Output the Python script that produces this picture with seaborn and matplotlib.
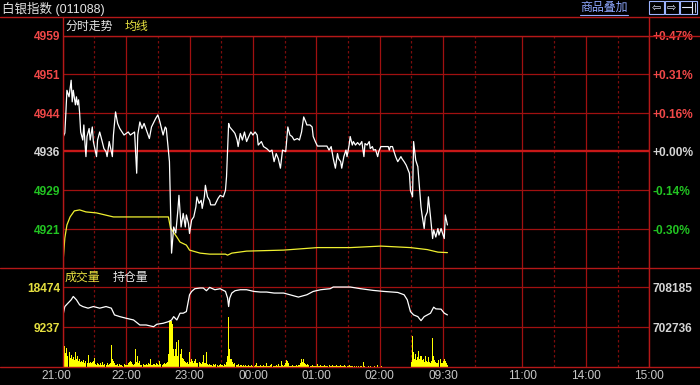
import numpy as np
import pandas as pd
import matplotlib
matplotlib.use("Agg")
import matplotlib.pyplot as plt
import matplotlib.transforms as mtransforms
from matplotlib.lines import Line2D
from matplotlib.patches import Rectangle
import seaborn as sns

# ---------------- data ----------------
price_minute = [
    0, 2, 3, 4, 6, 8, 9, 10, 12, 13,
    14, 15, 16, 17, 19, 20, 21, 22, 23, 25,
    26, 28, 29, 32, 33, 35, 37, 39, 41, 42,
    44, 47, 48, 50, 52, 54, 58, 62, 64, 68,
    69, 70, 71, 73, 75, 77, 82, 84, 88, 90,
    92, 95, 97, 98, 101, 102, 103, 105, 107, 109,
    110, 112, 114, 116, 117, 119, 120, 122, 124, 126,
    127, 129, 131, 132, 134, 135, 137, 139, 140, 144,
    147, 149, 152, 154, 155, 157, 158, 162, 163, 165,
    166, 168, 170, 172, 174, 176, 178, 180, 182, 184,
    185, 188, 190, 193, 196, 198, 200, 202, 204, 206,
    208, 211, 213, 215, 217, 219, 222, 224, 226, 228,
    230, 231, 234, 236, 237, 239, 241, 250, 252, 254,
    256, 258, 260, 261, 263, 264, 266, 268, 269, 271,
    272, 274, 275, 277, 279, 281, 283, 285, 286, 288,
    290, 291, 293, 294, 296, 298, 299, 301, 308, 309,
    310, 312, 313, 315, 317, 320, 321, 323, 325, 328,
    329, 331, 332, 334, 336, 337, 339, 340, 342, 343,
    345, 346, 348, 350, 351, 353, 355, 356, 358, 359,
    361, 362, 364,
]
price_value = [
    4939.1, 4940.1, 4944.1, 4948.6, 4947.3, 4950.6, 4946.3, 4948.6, 4945.7, 4947.3,
    4945.7, 4946.7, 4944.1, 4940.3, 4938.7, 4941.7, 4938.3, 4935.4, 4939.4, 4941.0,
    4938.7, 4941.3, 4938.4, 4935.4, 4938.7, 4940.3, 4938.7, 4937.0, 4936.4, 4935.4,
    4938.4, 4935.4, 4939.7, 4944.3, 4942.0, 4941.0, 4939.7, 4940.3, 4939.7, 4940.3,
    4936.4, 4932.1, 4939.7, 4942.3, 4941.0, 4942.0, 4939.0, 4941.3, 4943.0, 4943.7,
    4942.3, 4939.7, 4941.3, 4941.0, 4934.4, 4925.2, 4916.2, 4921.4, 4920.2, 4924.8,
    4927.7, 4921.4, 4924.1, 4921.4, 4923.8, 4922.1, 4920.1, 4922.8, 4923.4, 4925.4,
    4927.4, 4926.1, 4926.7, 4925.1, 4927.4, 4929.7, 4927.4, 4926.7, 4925.8, 4925.8,
    4927.1, 4927.7, 4927.4, 4928.7, 4931.4, 4942.0, 4941.3, 4940.3, 4940.0, 4938.7,
    4937.4, 4940.0, 4938.7, 4940.3, 4938.4, 4939.4, 4940.3, 4939.7, 4940.3, 4939.7,
    4937.7, 4938.4, 4937.4, 4937.0, 4936.4, 4936.7, 4934.4, 4936.0, 4935.0, 4933.1,
    4936.7, 4936.4, 4941.3, 4939.7, 4939.4, 4938.7, 4939.0, 4938.7, 4940.3, 4943.3,
    4942.3, 4941.7, 4941.7, 4941.3, 4939.4, 4938.4, 4937.5, 4937.5, 4936.7, 4937.4,
    4935.0, 4933.1, 4936.0, 4935.0, 4934.4, 4933.1, 4935.4, 4936.7, 4935.4, 4937.7,
    4939.4, 4937.7, 4938.4, 4937.7, 4938.2, 4937.7, 4938.4, 4935.4, 4938.0, 4937.7,
    4938.4, 4937.0, 4937.4, 4936.7, 4936.8, 4935.4, 4936.4, 4937.4, 4937.4, 4936.7,
    4937.4, 4937.4, 4936.7, 4935.4, 4934.4, 4935.4, 4935.0, 4934.4, 4933.7, 4932.1,
    4928.7, 4927.4, 4938.4, 4934.7, 4933.4, 4930.7, 4925.4, 4923.8, 4921.1, 4923.4,
    4924.4, 4927.4, 4923.4, 4919.1, 4920.8, 4919.4, 4921.1, 4919.8, 4921.1, 4920.4,
    4919.1, 4923.8, 4921.8,
]

avg_minute = [0, 2, 4, 7, 11, 16, 22, 32, 48, 66,
              100, 102, 108, 111, 117, 120, 130, 139, 154, 156,
              160, 174, 209, 241, 272, 301, 329, 345, 355, 364]
avg_value = [4913.5, 4919.2, 4921.8, 4923.4, 4924.6, 4924.8, 4924.4, 4924.2, 4923.4, 4923.4,
             4923.4, 4921.2, 4919.4, 4918.4, 4917.8, 4916.8, 4916.2, 4916.0, 4916.0, 4915.8,
             4916.2, 4916.6, 4916.8, 4917.3, 4917.3, 4917.6, 4917.3, 4916.9, 4916.4, 4916.3]

# volume per minute, starting 21:00
volume = [
    18474, 6700, 4800, 3300, 4400, 2600, 3500, 2200, 2800, 1900,
    2300, 1700, 3600, 1800, 2700, 1500, 2000, 1200, 1500, 1300,
    1600, 1100, 1400, 900, 2800, 1000, 1300, 900, 1200, 1500,
    2100, 800, 600, 1000, 700, 500, 900, 600, 1200, 500,
    700, 600, 1000, 500, 800, 1100, 5100, 2000, 1500, 900,
    600, 500, 700, 400, 800, 500, 600, 400, 700, 500,
    600, 500, 900, 1300, 1400, 1200, 700, 500, 800, 4300,
    1200, 2700, 900, 1500, 600, 500, 800, 600, 500, 700,
    600, 900, 700, 1800, 600, 500, 800, 700, 600, 900,
    700, 600, 1500, 800, 600, 700, 1000, 800, 900, 1200,
    3000, 10500, 10850, 10700, 10000, 4300, 2500, 4100, 5850, 2500,
    6230, 3000, 4300, 2200, 2000, 1500, 1200, 1000, 1300, 800,
    3500, 1200, 2000, 1500, 1000, 1400, 2000, 1100, 900, 1200,
    1000, 800, 1300, 2800, 900, 1100, 3500, 800, 600, 700,
    500, 600, 400, 700, 500, 800, 600, 400, 500, 700,
    600, 500, 400, 800, 600, 1200, 2500, 11600, 4300, 1800,
    2000, 1200, 800, 900, 600, 500, 700, 400, 500, 600,
    400, 500, 300, 600, 400, 300, 500, 400, 300, 500,
    400, 300, 500, 900, 300, 400, 300, 500, 400, 300,
    600, 300, 400, 1100, 300, 400, 300, 500, 800, 300,
    400, 300, 500, 300, 800, 400, 300, 1400, 500, 300,
    600, 900, 1600, 1500, 1000, 400, 300, 500, 300, 400,
    300, 500, 400, 600, 500, 900, 2000, 1200, 1800, 1000,
    800, 600, 800, 500, 400, 300, 500, 400, 300, 400,
    300, 800, 400, 300, 500, 300, 400, 300, 500, 300,
    400, 300, 600, 300, 400, 500, 300, 400, 300, 500,
    300, 400, 300, 500, 300, 400, 300, 600, 300, 400,
    300, 500, 300, 400, 300, 0, 300, 0, 400, 0,
    300, 0, 400, 300, 0, 1230, 300, 0, 0, 300,
    0, 300, 0, 0, 0, 300, 0, 0, 460, 0,
    0, 0, 300, 0, 0, 0, 0, 0, 0, 0,
    0, 0, 0, 0, 0, 0, 0, 0, 0, 0,
    0, 0, 0, 0, 0, 0, 0, 0, 0, 0,
    1200, 7160, 3500, 2000, 3000, 1600, 2300, 3770, 1800, 2700,
    1600, 2000, 1200, 2500, 1500, 1300, 2300, 1200, 1000, 1400,
    6620, 2700, 1600, 1200, 900, 1000, 1600, 1800, 1100, 900,
    1500, 2000, 1500, 900, 600,
]

oi_minute = [0, 2, 5, 8, 10, 13, 16, 19, 24, 29,
             35, 41, 46, 49, 54, 60, 67, 73, 79, 86,
             89, 95, 100, 103, 105, 108, 111, 114, 117, 120,
             122, 125, 130, 133, 136, 139, 144, 149, 154, 156,
             157, 158, 160, 163, 168, 174, 181, 187, 193, 200,
             209, 215, 223, 231, 237, 244, 253, 256, 258, 272,
             282, 294, 304, 317, 323, 326, 329, 332, 336, 339,
             342, 345, 348, 351, 353, 358, 361, 364]
oi_value = [704139, 705501, 705964, 706413, 706863, 706413, 705732, 705501, 705283, 705501,
            705283, 705501, 705283, 704370, 704139, 703921, 703689, 703008, 703008, 702777,
            703104, 703240, 703458, 703689, 704139, 703689, 704602, 704602, 704820, 707094,
            707544, 707912, 708007, 708007, 707639, 708089, 707775, 707912, 707544, 706645,
            705501, 706645, 707326, 707639, 707775, 707775, 707544, 707462, 707462, 707326,
            707326, 707094, 706781, 707094, 707544, 707775, 707912, 708143, 708143, 708143,
            707912, 707680, 707544, 707408, 707094, 706413, 704820, 704370, 704139, 703594,
            704139, 704370, 704602, 705419, 705188, 705147, 704602, 704370]

price_ticks = [4959.5, 4951.8, 4944.1, 4936.45, 4928.7, 4921.0]
price_bottom = 4913.3
price_labels = ["4959", "4951", "4944", "4936", "4929", "4921"]
pct_labels = ["+0.47%", "+0.31%", "+0.16%", "+0.00%", "-0.14%", "-0.30%"]
vol_ticks = [9237, 18474]
vol_labels = ["9237", "18474"]
oi_ticks = [702736, 708185]
oi_labels = ["702736", "708185"]
time_ticks = [0, 60, 120, 180, 240, 300, 360, 435, 495, 555]
time_labels = ["21:00", "22:00", "23:00", "00:00", "01:00", "02:00",
               "09:30", "11:00", "14:00", "15:00"]
half_ticks = [30, 90, 150, 210, 270, 330, 390, 465, 525]

# ---------------- style ----------------
sns.set_theme(style="dark")
plt.rcParams["font.family"] = ["Liberation Sans", "Noto Sans CJK SC", "DejaVu Sans"]
plt.rcParams["axes.facecolor"] = "black"
plt.rcParams["figure.facecolor"] = "black"

BG = "black"
GRID = "#A01010"
DIM = "#7A0C0C"
BORDER = "#B41818"
RED_T = "#F04848"
WHITE_T = "#D4D4D4"
GREEN_T = "#22C422"
YELLOW_T = "#E6E040"
price_colors = [RED_T, RED_T, RED_T, WHITE_T, GREEN_T, GREEN_T]

W, H = 700, 385
fig = plt.figure(figsize=(7, 3.85), dpi=100, facecolor=BG)


def fx(px):
    return px / W


def fy(py):
    return 1 - py / H


L, R = 62.7, 649.3
MAIN_T, MAIN_B = 35.5, 267.7
VOL_T, VOL_B = 267.7, 367.3
VOL_GRID_T = 286.7

ax1 = fig.add_axes([fx(L), fy(MAIN_B), (R - L) / W, (MAIN_B - MAIN_T) / H])
ax2 = fig.add_axes([fx(L), fy(VOL_B), (R - L) / W, (VOL_B - VOL_T) / H])
ax3 = ax2.twinx()

# ---------------- marks ----------------
price_df = pd.DataFrame({"minute": price_minute, "price": price_value})
avg_df = pd.DataFrame({"minute": avg_minute, "avg": avg_value})
vol_df = pd.DataFrame({"minute": np.arange(len(volume)), "volume": volume})
oi_df = pd.DataFrame({"minute": oi_minute, "oi": oi_value})

sns.lineplot(data=avg_df, x="minute", y="avg", ax=ax1, color="#F0F030",
             lw=0.9, sort=False, estimator=None, zorder=3)
sns.lineplot(data=price_df, x="minute", y="price", ax=ax1, color="white",
             lw=0.9, sort=False, estimator=None, zorder=4)
sns.histplot(data=vol_df, x="minute", weights="volume", discrete=True, ax=ax2,
             color="#FFFF00", alpha=1, edgecolor="none", linewidth=0, shrink=0.95,
             zorder=3)
sns.lineplot(data=oi_df, x="minute", y="oi", ax=ax3, color="white",
             lw=0.9, sort=False, estimator=None, zorder=4)

frac = (VOL_B - VOL_T) / (VOL_B - VOL_GRID_T)
ax1.set_ylim(price_bottom, price_ticks[0])
ax2.set_ylim(0, vol_ticks[1] * frac)
oi_step = oi_ticks[1] - oi_ticks[0]
oi_bottom = oi_ticks[0] - oi_step
ax3.set_ylim(oi_bottom, oi_bottom + 2 * oi_step * frac)

for ax in (ax1, ax2, ax3):
    ax.set_xlim(0, 555)
    ax.set_xticks([])
    ax.set_yticks([])
    ax.set_xlabel("")
    ax.set_ylabel("")
    ax.grid(False)
    for s in ax.spines.values():
        s.set_visible(False)
ax3.patch.set_visible(False)

# grid lines
for ax in (ax1, ax2):
    for t in time_ticks:
        ax.axvline(t, color=GRID, lw=0.9, zorder=1)
    for t in half_ticks:
        ax.axvline(t, color=DIM, lw=0.9, ls=(0, (2, 2)), zorder=1)
for i, t in enumerate(price_ticks):
    ax1.axhline(t, color=GRID if i != 3 else "#C81818",
                lw=0.9 if i != 3 else 1.7, zorder=1)
for t in vol_ticks:
    ax2.axhline(t, color=GRID, lw=0.9, zorder=1)

# axis labels as text
off_down = mtransforms.ScaledTranslation(0, -2 / 100, fig.dpi_scale_trans)
tl = mtransforms.blended_transform_factory(ax1.transAxes, ax1.transData) + off_down
for t, lab, col in zip(price_ticks, price_labels, price_colors):
    ax1.text(-0.004, t, lab, transform=tl, ha="right", va="center",
             color=col, fontsize=8.6, fontweight="bold", clip_on=False)
for t, lab, col in zip(price_ticks, pct_labels, price_colors):
    ax1.text(1.006, t, lab, transform=tl, ha="left", va="center",
             color=col, fontsize=8.6, fontweight="bold", clip_on=False)

tv = mtransforms.blended_transform_factory(ax2.transAxes, ax2.transData) + off_down
for t, lab in zip(vol_ticks, vol_labels):
    ax2.text(-0.004, t, lab, transform=tv, ha="right", va="center",
             color=YELLOW_T, fontsize=8.6, fontweight="bold", clip_on=False)
to = mtransforms.blended_transform_factory(ax3.transAxes, ax3.transData) + off_down
for t, lab in zip(oi_ticks, oi_labels):
    ax3.text(1.006, t, lab, transform=to, ha="left", va="center",
             color=WHITE_T, fontsize=8.6, fontweight="bold", clip_on=False)

tx = mtransforms.blended_transform_factory(ax2.transData, ax2.transAxes)
for i, (t, lab) in enumerate(zip(time_ticks, time_labels)):
    tr = tx
    if i == 0:
        tr = tx + mtransforms.ScaledTranslation(-6 / 100, 0, fig.dpi_scale_trans)
    ax2.text(t, -(375.7 - VOL_B) / (VOL_B - VOL_T), lab, transform=tr,
             ha="center", va="center", color="#C8C8C8", fontsize=8.6,
             clip_on=False)


# ---------------- frame lines ----------------
def hline(y, x0, x1, color=BORDER, lw=1.0):
    fig.add_artist(Line2D([fx(x0), fx(x1)], [fy(y), fy(y)],
                          transform=fig.transFigure, color=color, lw=lw))


def vline(x, y0, y1, color=BORDER, lw=1.0):
    fig.add_artist(Line2D([fx(x), fx(x)], [fy(y0), fy(y1)],
                          transform=fig.transFigure, color=color, lw=lw))


hline(17, 0, 700)
hline(MAIN_T, L, 700)
hline(MAIN_B, 0, 700)
hline(VOL_B, 0, 700)
vline(L, 17, VOL_B)
vline(R, 17, VOL_B)

# ---------------- header texts ----------------
fig.text(fx(2), fy(8.5), "白银指数 (011088)", color="#E4E4E4", fontsize=9,
         ha="left", va="center")
fig.text(fx(65), fy(27), "分时走势", color="#E4E4E4", fontsize=8.6,
         ha="left", va="center")
fig.text(fx(125), fy(27), "均线", color=YELLOW_T, fontsize=8.6,
         ha="left", va="center")
fig.text(fx(65), fy(277.5), "成交量", color=YELLOW_T, fontsize=8.6,
         ha="left", va="center")
fig.text(fx(113), fy(277.5), "持仓量", color="#E4E4E4", fontsize=8.6,
         ha="left", va="center")

LINK = "#8FA8FF"
fig.text(fx(580), fy(7.5), "商品叠加", color=LINK, fontsize=8.6,
         ha="left", va="center")
hline(14.5, 580, 628, color=LINK, lw=0.8)

ICON = "#9DB4FF"
for x0, x1 in [(648.5, 663.5), (664.5, 679), (680, 697)]:
    fig.add_artist(Rectangle((fx(x0), fy(13.5)), (x1 - x0) / W, 12.5 / H,
                             transform=fig.transFigure, fill=False,
                             edgecolor=ICON, lw=0.8))
fig.text(fx(656), fy(7.2), "⇦", color="#E0E8FF", fontsize=8,
         ha="center", va="center", family=["DejaVu Sans"])
fig.text(fx(671.7), fy(7.2), "⇨", color="#E0E8FF", fontsize=8,
         ha="center", va="center", family=["DejaVu Sans"])
hline(7.2, 681.5, 691.5, color="#E0E8FF", lw=0.8)
vline(692, 1.5, 13, color="#E0E8FF", lw=0.8)
vline(694.5, 2.5, 12, color="#E0E8FF", lw=0.6)

fig.savefig("out.png", dpi=100, facecolor=BG)
